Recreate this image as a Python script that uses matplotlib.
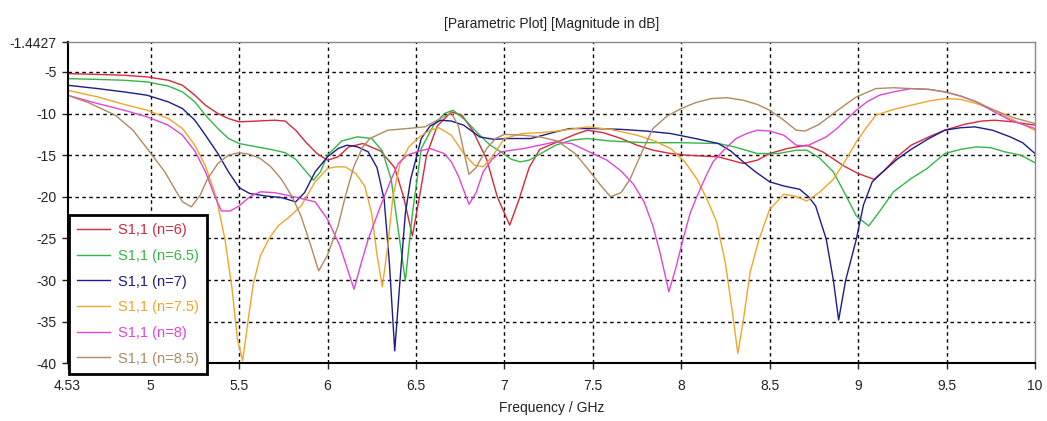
import matplotlib
matplotlib.use("Agg")
import matplotlib.pyplot as plt

plt.rcParams['font.family'] = ['Liberation Sans', 'DejaVu Sans']

# S1,1 (n=6)
freq_n6 = [4.53, 4.7, 4.85, 4.98, 5.1, 5.18, 5.25, 5.31, 5.38, 5.44, 5.5, 5.6, 5.7, 5.76, 5.82,
           5.88, 5.94, 6.0, 6.06, 6.12, 6.2, 6.3, 6.38, 6.43, 6.48, 6.52, 6.56, 6.62, 6.7, 6.76,
           6.82, 6.9, 6.96, 7.03, 7.08, 7.14, 7.2, 7.3, 7.4, 7.47, 7.56, 7.66, 7.75, 7.84, 7.94,
           8.03, 8.12, 8.21, 8.35, 8.43, 8.5, 8.6, 8.71, 8.8, 8.92, 9.0, 9.09, 9.15, 9.22, 9.3,
           9.4, 9.49, 9.6, 9.7, 9.77, 9.88, 10.0]
s11_n6 = [-5.2, -5.3, -5.4, -5.6, -6.0, -6.6, -7.8, -9.0, -10.0, -10.6, -11.0, -10.9, -10.8, -10.9, -12.0,
          -13.5, -14.8, -15.6, -15.2, -14.0, -13.6, -14.5, -16.5, -20.0, -24.7, -20.0, -15.0, -11.5, -9.8, -10.2,
          -12.0, -15.5, -20.0, -23.4, -20.5, -16.5, -14.3, -13.4, -12.5, -12.0, -12.3, -13.0, -13.8, -14.4, -14.8,
          -15.0, -15.1, -15.2, -16.0, -15.6, -14.8, -14.2, -13.8, -14.6, -16.3, -17.2, -17.9, -16.8, -15.2, -13.8,
          -12.8, -12.0, -11.3, -10.9, -10.8, -11.0, -11.4]

# S1,1 (n=6.5)
freq_n65 = [4.53, 4.7, 4.85, 4.98, 5.1, 5.18, 5.25, 5.31, 5.38, 5.44, 5.5, 5.6, 5.7, 5.76, 5.82,
            5.88, 5.92, 5.96, 6.0, 6.08, 6.17, 6.25, 6.31, 6.36, 6.4, 6.44, 6.48, 6.53, 6.6, 6.66,
            6.71, 6.78, 6.86, 6.92, 6.98, 7.04, 7.09, 7.14, 7.19, 7.29, 7.38, 7.47, 7.6, 7.8, 8.0,
            8.21, 8.3, 8.43, 8.55, 8.65, 8.71, 8.78, 8.86, 8.93, 8.99, 9.06, 9.13, 9.2, 9.3, 9.39,
            9.49, 9.58, 9.67, 9.75, 9.83, 9.92, 10.0]
s11_n65 = [-5.8, -5.9, -6.0, -6.2, -6.7, -7.4, -8.6, -10.2, -11.8, -13.0, -13.6, -14.0, -14.4, -14.7, -15.5,
           -17.0, -18.0, -17.0, -15.0, -13.3, -12.8, -13.0, -14.5, -17.9, -24.0, -30.1, -22.0, -14.2, -11.4, -10.0,
           -9.6, -10.8, -12.6, -13.8, -14.6, -15.5, -15.8, -15.6, -15.0, -13.8, -13.2, -13.0, -13.3, -13.5, -13.5,
           -13.6, -14.0, -14.8, -14.8, -14.4, -14.4, -15.3, -17.0, -19.8, -22.3, -23.5, -21.5, -19.4, -17.8, -16.6,
           -14.8, -14.3, -14.0, -14.1, -14.6, -15.0, -15.9]

# S1,1 (n=7)
freq_n7 = [4.53, 4.7, 4.85, 4.98, 5.1, 5.18, 5.25, 5.31, 5.38, 5.44, 5.5, 5.56, 5.65, 5.74, 5.82,
           5.87, 5.93, 6.0, 6.06, 6.11, 6.17, 6.23, 6.28, 6.32, 6.35, 6.38, 6.41, 6.44, 6.47, 6.53,
           6.58, 6.64, 6.7, 6.77, 6.86, 6.94, 7.02, 7.15, 7.22, 7.29, 7.37, 7.5, 7.66, 7.8, 7.94,
           8.08, 8.21, 8.28, 8.35, 8.42, 8.5, 8.58, 8.67, 8.72, 8.76, 8.82, 8.86, 8.89, 8.93, 8.99,
           9.03, 9.08, 9.15, 9.22, 9.3, 9.4, 9.49, 9.58, 9.66, 9.76, 9.86, 9.93, 10.0]
s11_n7 = [-6.6, -7.0, -7.4, -7.8, -8.6, -9.4, -10.8, -12.6, -14.8, -17.0, -18.9, -19.6, -19.9, -20.1, -20.6,
          -19.5, -17.0, -15.2, -14.2, -13.8, -14.0, -14.6, -16.5, -20.3, -28.0, -38.5, -30.0, -22.0, -17.9, -13.0,
          -11.5, -10.8, -10.9, -11.4, -12.8, -13.1, -13.0, -13.0, -12.6, -12.2, -11.8, -11.8, -11.9, -12.1, -12.4,
          -13.0, -13.6, -14.5, -15.8, -17.0, -18.2, -18.7, -19.1, -20.0, -21.1, -25.1, -30.0, -34.8, -30.0, -25.1,
          -21.0, -18.2, -16.8, -15.5, -14.3, -13.0, -12.0, -11.7, -11.6, -12.0, -12.8, -13.5, -14.8]

# S1,1 (n=7.5)
freq_n75 = [4.53, 4.7, 4.85, 4.98, 5.1, 5.18, 5.25, 5.31, 5.37, 5.42, 5.46, 5.49, 5.52, 5.55, 5.58,
            5.62, 5.67, 5.72, 5.79, 5.85, 5.93, 6.0, 6.05, 6.1, 6.16, 6.21, 6.25, 6.28, 6.31, 6.34,
            6.37, 6.41, 6.46, 6.52, 6.58, 6.63, 6.7, 6.77, 6.83, 6.88, 6.93, 7.0, 7.1, 7.2, 7.3,
            7.47, 7.6, 7.75, 7.85, 7.94, 8.02, 8.09, 8.15, 8.2, 8.25, 8.29, 8.32, 8.35, 8.39, 8.44,
            8.5, 8.58, 8.64, 8.71, 8.78, 8.86, 8.93, 8.99, 9.05, 9.1, 9.2, 9.3, 9.4, 9.49, 9.58,
            9.67, 9.77, 9.86, 9.93, 10.0]
s11_n75 = [-7.2, -8.0, -8.9, -9.6, -10.6, -11.8, -13.8, -16.3, -20.0, -25.1, -31.0, -37.0, -39.7, -35.0, -30.5,
           -27.1, -25.0, -23.5, -22.3, -21.1, -18.2, -16.6, -16.4, -16.4, -17.2, -18.7, -22.0, -27.0, -30.8, -26.0,
           -20.0, -16.0, -14.0, -12.8, -12.0, -11.7, -12.6, -14.8, -16.2, -16.4, -15.2, -13.0, -12.4, -12.3, -12.1,
           -11.6, -11.9, -12.6, -13.3, -14.2, -15.8, -17.9, -20.5, -23.0, -28.0, -34.0, -38.8, -35.0, -29.0, -25.1,
           -21.5, -19.7, -19.9, -20.5, -19.5, -17.9, -15.6, -13.4, -11.6, -10.2, -9.5, -9.0, -8.5, -8.2, -8.3,
           -8.8, -9.6, -10.6, -11.3, -12.0]

# S1,1 (n=8)
freq_n8 = [4.53, 4.7, 4.85, 4.98, 5.1, 5.18, 5.25, 5.31, 5.36, 5.4, 5.45, 5.5, 5.56, 5.62, 5.7,
           5.77, 5.85, 5.93, 6.0, 6.07, 6.11, 6.15, 6.19, 6.23, 6.3, 6.36, 6.4, 6.45, 6.52, 6.58,
           6.66, 6.7, 6.74, 6.8, 6.84, 6.88, 6.93, 6.98, 7.11, 7.2, 7.29, 7.38, 7.5, 7.58, 7.66,
           7.73, 7.79, 7.84, 7.88, 7.93, 7.97, 8.01, 8.05, 8.09, 8.14, 8.18, 8.24, 8.31, 8.37, 8.43,
           8.5, 8.58, 8.65, 8.71, 8.76, 8.82, 8.88, 8.93, 8.99, 9.05, 9.12, 9.2, 9.3, 9.4, 9.49,
           9.58, 9.67, 9.77, 9.86, 9.93, 10.0]
s11_n8 = [-7.8, -8.8, -9.6, -10.4, -11.4, -12.6, -14.5, -17.0, -19.8, -21.7, -21.7, -21.1, -20.0, -19.4, -19.5,
          -19.8, -20.2, -20.6, -22.7, -25.9, -28.5, -31.1, -28.0, -25.1, -21.1, -17.9, -16.0, -15.0, -14.5, -14.2,
          -14.8, -15.8, -17.5, -20.9, -19.5, -17.0, -15.5, -14.6, -14.2, -13.8, -13.4, -13.6, -14.8, -15.6, -16.9,
          -18.5, -20.6, -23.5, -26.7, -31.4, -28.5, -25.1, -22.0, -19.9, -17.5, -15.8, -14.4, -13.0, -12.4, -12.0,
          -12.1, -12.6, -13.8, -13.9, -13.4, -12.8, -11.8, -10.8, -9.6, -8.6, -7.8, -7.4, -7.0, -7.1, -7.4,
          -7.9, -8.6, -9.8, -10.8, -11.3, -11.8]

# S1,1 (n=8.5)
freq_n85 = [4.53, 4.65, 4.8, 4.9, 4.98, 5.08, 5.14, 5.18, 5.23, 5.28, 5.32, 5.38, 5.44, 5.5, 5.56,
            5.62, 5.68, 5.74, 5.8, 5.85, 5.9, 5.95, 6.0, 6.06, 6.1, 6.15, 6.2, 6.24, 6.34, 6.45,
            6.55, 6.62, 6.7, 6.74, 6.77, 6.8, 6.84, 6.9, 6.95, 7.0, 7.1, 7.2, 7.3, 7.4, 7.47,
            7.54, 7.6, 7.66, 7.71, 7.78, 7.84, 7.92, 8.0, 8.08, 8.17, 8.26, 8.35, 8.43, 8.5, 8.58,
            8.65, 8.7, 8.78, 8.86, 8.93, 8.99, 9.1, 9.2, 9.3, 9.4, 9.49, 9.58, 9.67, 9.77, 9.88,
            10.0]
s11_n85 = [-7.8, -8.7, -10.2, -12.0, -14.2, -17.0, -19.2, -20.6, -21.2, -19.8, -17.9, -16.0, -15.0, -14.7, -14.9,
           -15.4, -16.4, -17.9, -20.0, -22.3, -25.5, -28.9, -27.0, -23.5, -20.0, -16.3, -14.0, -13.0, -12.0, -11.8,
           -11.6, -10.8, -9.9, -11.5, -14.5, -17.3, -16.5, -14.2, -13.0, -12.5, -12.6, -12.8, -13.3, -14.8, -16.6,
           -18.5, -20.0, -19.5, -17.9, -14.5, -11.8, -10.3, -9.4, -8.7, -8.2, -8.1, -8.4, -8.9, -9.6, -10.8,
           -12.0, -12.1, -11.3, -10.0, -8.9, -8.0, -7.0, -6.9, -7.0, -7.1, -7.4, -7.9, -8.6, -9.6, -10.5,
           -11.2]

labels = ['S1,1 (n=6)', 'S1,1 (n=6.5)', 'S1,1 (n=7)', 'S1,1 (n=7.5)', 'S1,1 (n=8)', 'S1,1 (n=8.5)']
colors = ['#d42a3a', '#35b545', '#1c1c8a', '#f0a52a', '#e045d8', '#b08a62']
x_ticks = [4.53, 5, 5.5, 6, 6.5, 7, 7.5, 8, 8.5, 9, 9.5, 10]
x_tick_labels = ['4.53', '5', '5.5', '6', '6.5', '7', '7.5', '8', '8.5', '9', '9.5', '10']
y_ticks = [-1.4427, -5, -10, -15, -20, -25, -30, -35, -40]
y_tick_labels = ['-1.4427', '-5', '-10', '-15', '-20', '-25', '-30', '-35', '-40']

fig = plt.figure(figsize=(10.47, 4.21), dpi=100)
ax = fig.add_axes([0.0645, 0.137, 0.924, 0.7625])

curves = [(freq_n6, s11_n6), (freq_n65, s11_n65), (freq_n7, s11_n7),
          (freq_n75, s11_n75), (freq_n8, s11_n8), (freq_n85, s11_n85)]
for (f, s), lab, c in zip(curves, labels, colors):
    ax.plot(f, s, color=c, lw=1.0, label=lab)

ax.set_xlim(4.53, 10)
ax.set_ylim(-40, -1.4427)
ax.set_xticks(x_ticks)
ax.set_xticklabels(x_tick_labels)
ax.set_yticks(y_ticks)
ax.set_yticklabels(y_tick_labels)
ax.tick_params(direction='out', length=4, width=1, labelsize=10, colors='#222222')
ax.tick_params(axis='x', pad=7)
ax.tick_params(axis='y', pad=4)

# dotted grid, drawn only at interior tick positions
for xv in x_ticks[1:-1]:
    ax.axvline(xv, color='black', lw=1.0, ls=(0, (2.5, 2.5)), zorder=0.5)
for yv in y_ticks[1:-1]:
    ax.axhline(yv, color='black', lw=1.0, ls=(0, (2.5, 2.5)), zorder=0.5)

for side in ['top', 'right']:
    ax.spines[side].set_color('#8a8a8a')
    ax.spines[side].set_linewidth(1.0)
for side in ['left', 'bottom']:
    ax.spines[side].set_color('black')
    ax.spines[side].set_linewidth(1.5)

ax.set_title('[Parametric Plot] [Magnitude in dB]', fontsize=10, color='#222222', pad=10)
ax.set_xlabel('Frequency / GHz', fontsize=10, color='#222222', labelpad=6)

leg = ax.legend(loc='lower left', bbox_to_anchor=(0.002, -0.032), fontsize=10.5,
                frameon=True, fancybox=False, framealpha=1, edgecolor='black',
                handlelength=2.2, handletextpad=0.6, labelspacing=0.8,
                borderpad=0.55, borderaxespad=0)
leg.get_frame().set_linewidth(2.0)
leg.set_clip_on(False)
for txt, c in zip(leg.get_texts(), colors):
    txt.set_color(c)

fig.savefig('out.png', dpi=100)
